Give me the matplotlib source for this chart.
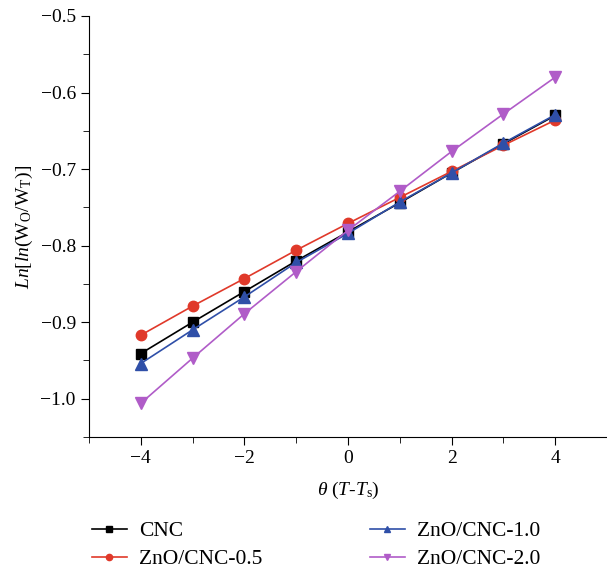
import numpy as np
import matplotlib
matplotlib.use("Agg")
import matplotlib.pyplot as plt
from matplotlib.ticker import MultipleLocator

plt.rcParams['font.family'] = ['Liberation Serif', 'DejaVu Serif']
plt.rcParams['mathtext.fontset'] = 'custom'
plt.rcParams['mathtext.rm'] = 'Liberation Serif'
plt.rcParams['mathtext.it'] = 'Liberation Serif:italic'

theta = [-4, -3, -2, -1, 0, 1, 2, 3, 4]
cnc = [-0.941, -0.900, -0.860, -0.820, -0.782, -0.744, -0.705, -0.667, -0.630]
zno_05 = [-0.917, -0.879, -0.843, -0.806, -0.771, -0.737, -0.703, -0.669, -0.636]
zno_10 = [-0.954, -0.910, -0.867, -0.822, -0.784, -0.743, -0.705, -0.666, -0.629]
zno_20 = [-1.006, -0.947, -0.889, -0.834, -0.780, -0.729, -0.677, -0.628, -0.580]

labels = ['CNC', 'ZnO/CNC-0.5', 'ZnO/CNC-1.0', 'ZnO/CNC-2.0']
colors = ['#000000', '#e0392a', '#2f4fa8', '#b05cc8']
markers = ['s', 'o', '^', 'v']
msizes = [6.5, 7.5, 8, 8]

fig = plt.figure(figsize=(6.07, 5.71), dpi=100)
ax = fig.add_axes([0.1466, 0.2347, 0.8534, 0.7373])

for y, lab, c, m, ms in zip([cnc, zno_05, zno_10, zno_20], labels, colors, markers, msizes):
    ax.plot(theta, y, color=c, marker=m, markersize=ms, linewidth=1.2, label=lab)

ax.set_xlim(-5, 5)
ax.set_ylim(-1.05, -0.5)
ax.xaxis.set_major_locator(MultipleLocator(2))
ax.xaxis.set_minor_locator(MultipleLocator(1))
ax.yaxis.set_major_locator(MultipleLocator(0.1))
ax.yaxis.set_minor_locator(MultipleLocator(0.05))
ax.yaxis.set_major_formatter(plt.FuncFormatter(lambda v, p: f"{v:.1f}".replace('-', '\u2212')))
ax.xaxis.set_major_formatter(plt.FuncFormatter(lambda v, p: f"{v:.0f}".replace('-', '\u2212')))
ax.spines['top'].set_visible(False)
ax.spines['right'].set_visible(False)
ax.tick_params(which='both', direction='out', labelsize=14)
ax.tick_params(which='major', length=6)
ax.tick_params(which='minor', length=4)

ax.set_xlabel(r'$\theta$ ($T$-$T_\mathrm{s}$)', fontsize=14, labelpad=9)
ax.set_ylabel(r'$Ln[ln(\mathrm{W_O/W_T})]$', fontsize=14)

ax.legend(loc='upper left', bbox_to_anchor=(-0.011, -0.18), borderaxespad=0,
          ncol=2, frameon=False, fontsize=15.5, columnspacing=5.0,
          handlelength=1.63, handletextpad=0.55, labelspacing=0.35,
          markerscale=0.6)

fig.savefig('out.png', dpi=100)
